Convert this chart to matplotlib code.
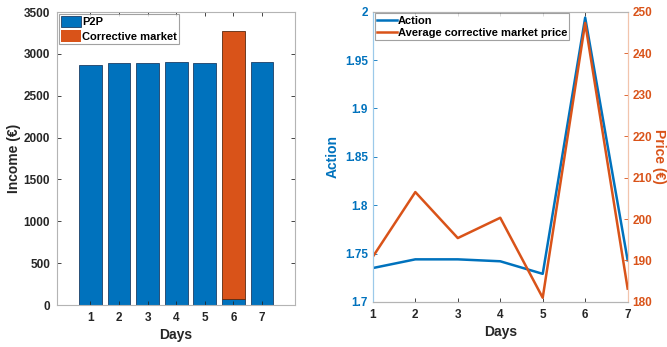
import matplotlib.pyplot as plt
import numpy as np

plt.rcParams["font.family"] = ["Liberation Sans", "DejaVu Sans"]
plt.rcParams["font.weight"] = "bold"
plt.rcParams["axes.labelweight"] = "bold"

BLUE = "#0072BD"
ORANGE = "#D95319"
DARK = "#262626"
GRID = "#b4b4b4"

days = [1, 2, 3, 4, 5, 6, 7]
p2p_income = [2872, 2888, 2893, 2903, 2897, 72, 2905]
corrective_income = [0, 0, 0, 0, 0, 3200, 0]

action = [1.735, 1.744, 1.744, 1.742, 1.729, 1.994, 1.743]
avg_price = [190.9, 206.5, 195.4, 200.3, 181.0, 247.3, 183.2]

TICK_FS = 8.5
LABEL_FS = 10
LEG_FS = 8

fig = plt.figure(figsize=(6.67, 3.47), dpi=100)

# stacked income bars
ax1 = fig.add_axes([0.0855, 0.121, 0.357, 0.844])
ax1.bar(days, p2p_income, width=0.8, color=BLUE, edgecolor="#1c3f66", linewidth=0.6, label="P2P")
ax1.bar(days, corrective_income, bottom=p2p_income, width=0.8, color=ORANGE,
        edgecolor="#5a2a10", linewidth=[0.6 if v else 0 for v in corrective_income],
        label="Corrective market")
ax1.set_xlim(-0.17, 8.16)
ax1.set_ylim(0, 3500)
ax1.set_xticks(days)
ax1.set_yticks(np.arange(0, 3501, 500))
ax1.set_xlabel("Days", fontsize=LABEL_FS, color=DARK, labelpad=3)
ax1.set_ylabel("Income (€)", fontsize=LABEL_FS, color=DARK, labelpad=2)
ax1.tick_params(direction="in", top=True, right=True, labelsize=TICK_FS, colors=DARK,
                length=3, width=0.6, pad=5)
for tl in ax1.get_xticklabels() + ax1.get_yticklabels():
    tl.set_fontweight("bold")
for s in ax1.spines.values():
    s.set_color(GRID)
    s.set_linewidth(0.8)
leg = ax1.legend(loc="upper left", fontsize=LEG_FS, frameon=True, fancybox=False,
                 borderpad=0.2, handlelength=1.8, handletextpad=0.1,
                 labelspacing=0.25, borderaxespad=0.15, handleheight=1.2)
leg.get_frame().set_edgecolor("#8a8a8a")
leg.get_frame().set_linewidth(0.8)

# action vs average price
ax2 = fig.add_axes([0.559, 0.130, 0.382, 0.836])
ax3 = ax2.twinx()
l1, = ax2.plot(days, action, color=BLUE, lw=1.8, label="Action")
l2, = ax3.plot(days, avg_price, color=ORANGE, lw=1.8, label="Average corrective market price")
ax2.set_xlim(1, 7)
ax2.set_ylim(1.7, 2.0)
ax3.set_ylim(180, 250)
ax2.set_xticks(days)
ax2.set_yticks([1.7, 1.75, 1.8, 1.85, 1.9, 1.95, 2.0])
ax2.set_yticklabels(["1.7", "1.75", "1.8", "1.85", "1.9", "1.95", "2"])
ax3.set_yticks(np.arange(180, 251, 10))
ax2.set_xlabel("Days", fontsize=LABEL_FS, color=DARK, labelpad=3)
ax2.set_ylabel("Action", fontsize=LABEL_FS, color=BLUE, labelpad=4)
ax3.set_ylabel("Price (€)", fontsize=LABEL_FS, color=ORANGE, rotation=-90, va="center")
ax3.yaxis.set_label_coords(1.125, 0.5)
ax2.tick_params(axis="x", direction="in", top=True, labelsize=TICK_FS, colors=DARK,
                length=3, width=0.6, pad=5)
ax2.tick_params(axis="y", direction="in", labelsize=TICK_FS, colors=BLUE, length=3, width=0.6)
ax3.tick_params(axis="y", direction="in", labelsize=TICK_FS, colors=ORANGE, length=3, width=0.6)
for tl in ax2.get_xticklabels() + ax2.get_yticklabels() + ax3.get_yticklabels():
    tl.set_fontweight("bold")
for ax in (ax2, ax3):
    ax.spines["top"].set_color(GRID)
    ax.spines["bottom"].set_color(GRID)
    ax.spines["left"].set_color("#9cc9ea")
    ax.spines["right"].set_color("#f2c4ac")
    for s in ax.spines.values():
        s.set_linewidth(0.8)
leg2 = ax3.legend([l1, l2], ["Action", "Average corrective market price"], loc="upper left",
                  fontsize=LEG_FS, frameon=True, fancybox=False, borderpad=0.2,
                  handlelength=1.8, handletextpad=0.1, labelspacing=0.2, borderaxespad=0.15)
leg2.get_frame().set_edgecolor("#8a8a8a")
leg2.get_frame().set_linewidth(0.8)

fig.savefig("out.png", dpi=100)
